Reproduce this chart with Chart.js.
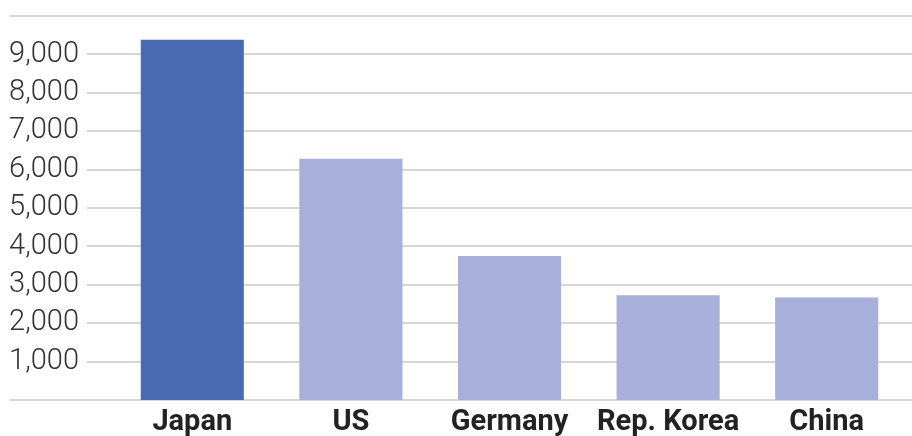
<!DOCTYPE html>
<html>
<head>
<meta charset="utf-8">
<script src="https://cdn.jsdelivr.net/npm/chart.js@4"></script>
<style>
html,body{margin:0;padding:0;background:#fff;}
#wrap{width:912px;height:436px;position:relative;}
</style>
</head>
<body>
<div id="wrap"><canvas id="c" width="912" height="436"></canvas></div>
<script>
const categories = ["Japan", "US", "Germany", "Rep. Korea", "China"];
const values = [9380, 6280, 3750, 2730, 2670];
const barColors = ["#4a6bb4", "#a8afdb", "#a8afdb", "#a8afdb", "#a8afdb"];
const yTicks = [0, 1000, 2000, 3000, 4000, 5000, 6000, 7000, 8000, 9000, 10000];
const yMin = 0, yMax = 10000, yStep = 1000;

const gridPlugin = {
  id: 'customGrid',
  beforeDatasetsDraw(chart) {
    const ctx = chart.ctx;
    const y = chart.scales.y;
    ctx.save();
    ctx.strokeStyle = '#d7d7d7';
    ctx.lineWidth = 2;
    yTicks.forEach(v => {
      const py = Math.round(y.getPixelForValue(v));
      const x0 = (v === yMin || v === yMax) ? 10 : 87;
      ctx.beginPath();
      ctx.moveTo(x0, py);
      ctx.lineTo(chart.width, py);
      ctx.stroke();
    });
    ctx.restore();
  }
};

new Chart(document.getElementById('c'), {
  type: 'bar',
  data: {
    labels: categories,
    datasets: [{
      data: values,
      backgroundColor: barColors,
      borderWidth: 0,
      categoryPercentage: 1,
      barPercentage: 0.65
    }]
  },
  options: {
    responsive: false,
    animation: false,
    layout: { padding: { top: 16, right: 6, left: 0, bottom: 0 } },
    plugins: { legend: { display: false }, tooltip: { enabled: false } },
    scales: {
      x: {
        grid: { display: false },
        border: { display: false },
        ticks: {
          color: '#222',
          padding: 0,
          font: { family: 'Roboto', size: 29, weight: 'bold', lineHeight: 1.0 }
        },
        afterFit(scale) { scale.height = 36; scale.paddingLeft = 0; scale.paddingRight = 0; }
      },
      y: {
        min: yMin, max: yMax,
        grid: { display: false },
        border: { display: false },
        ticks: {
          stepSize: yStep,
          padding: 26,
          color: '#333',
          font: { family: 'Roboto', size: 29, weight: '300' },
          callback: (v) => (v === yMin || v === yMax) ? '' : v.toLocaleString('en-US')
        },
        afterFit(scale) { scale.width = 113; scale.paddingTop = 0; scale.paddingBottom = 0; }
      }
    }
  },
  plugins: [gridPlugin]
});
</script>
</body>
</html>
